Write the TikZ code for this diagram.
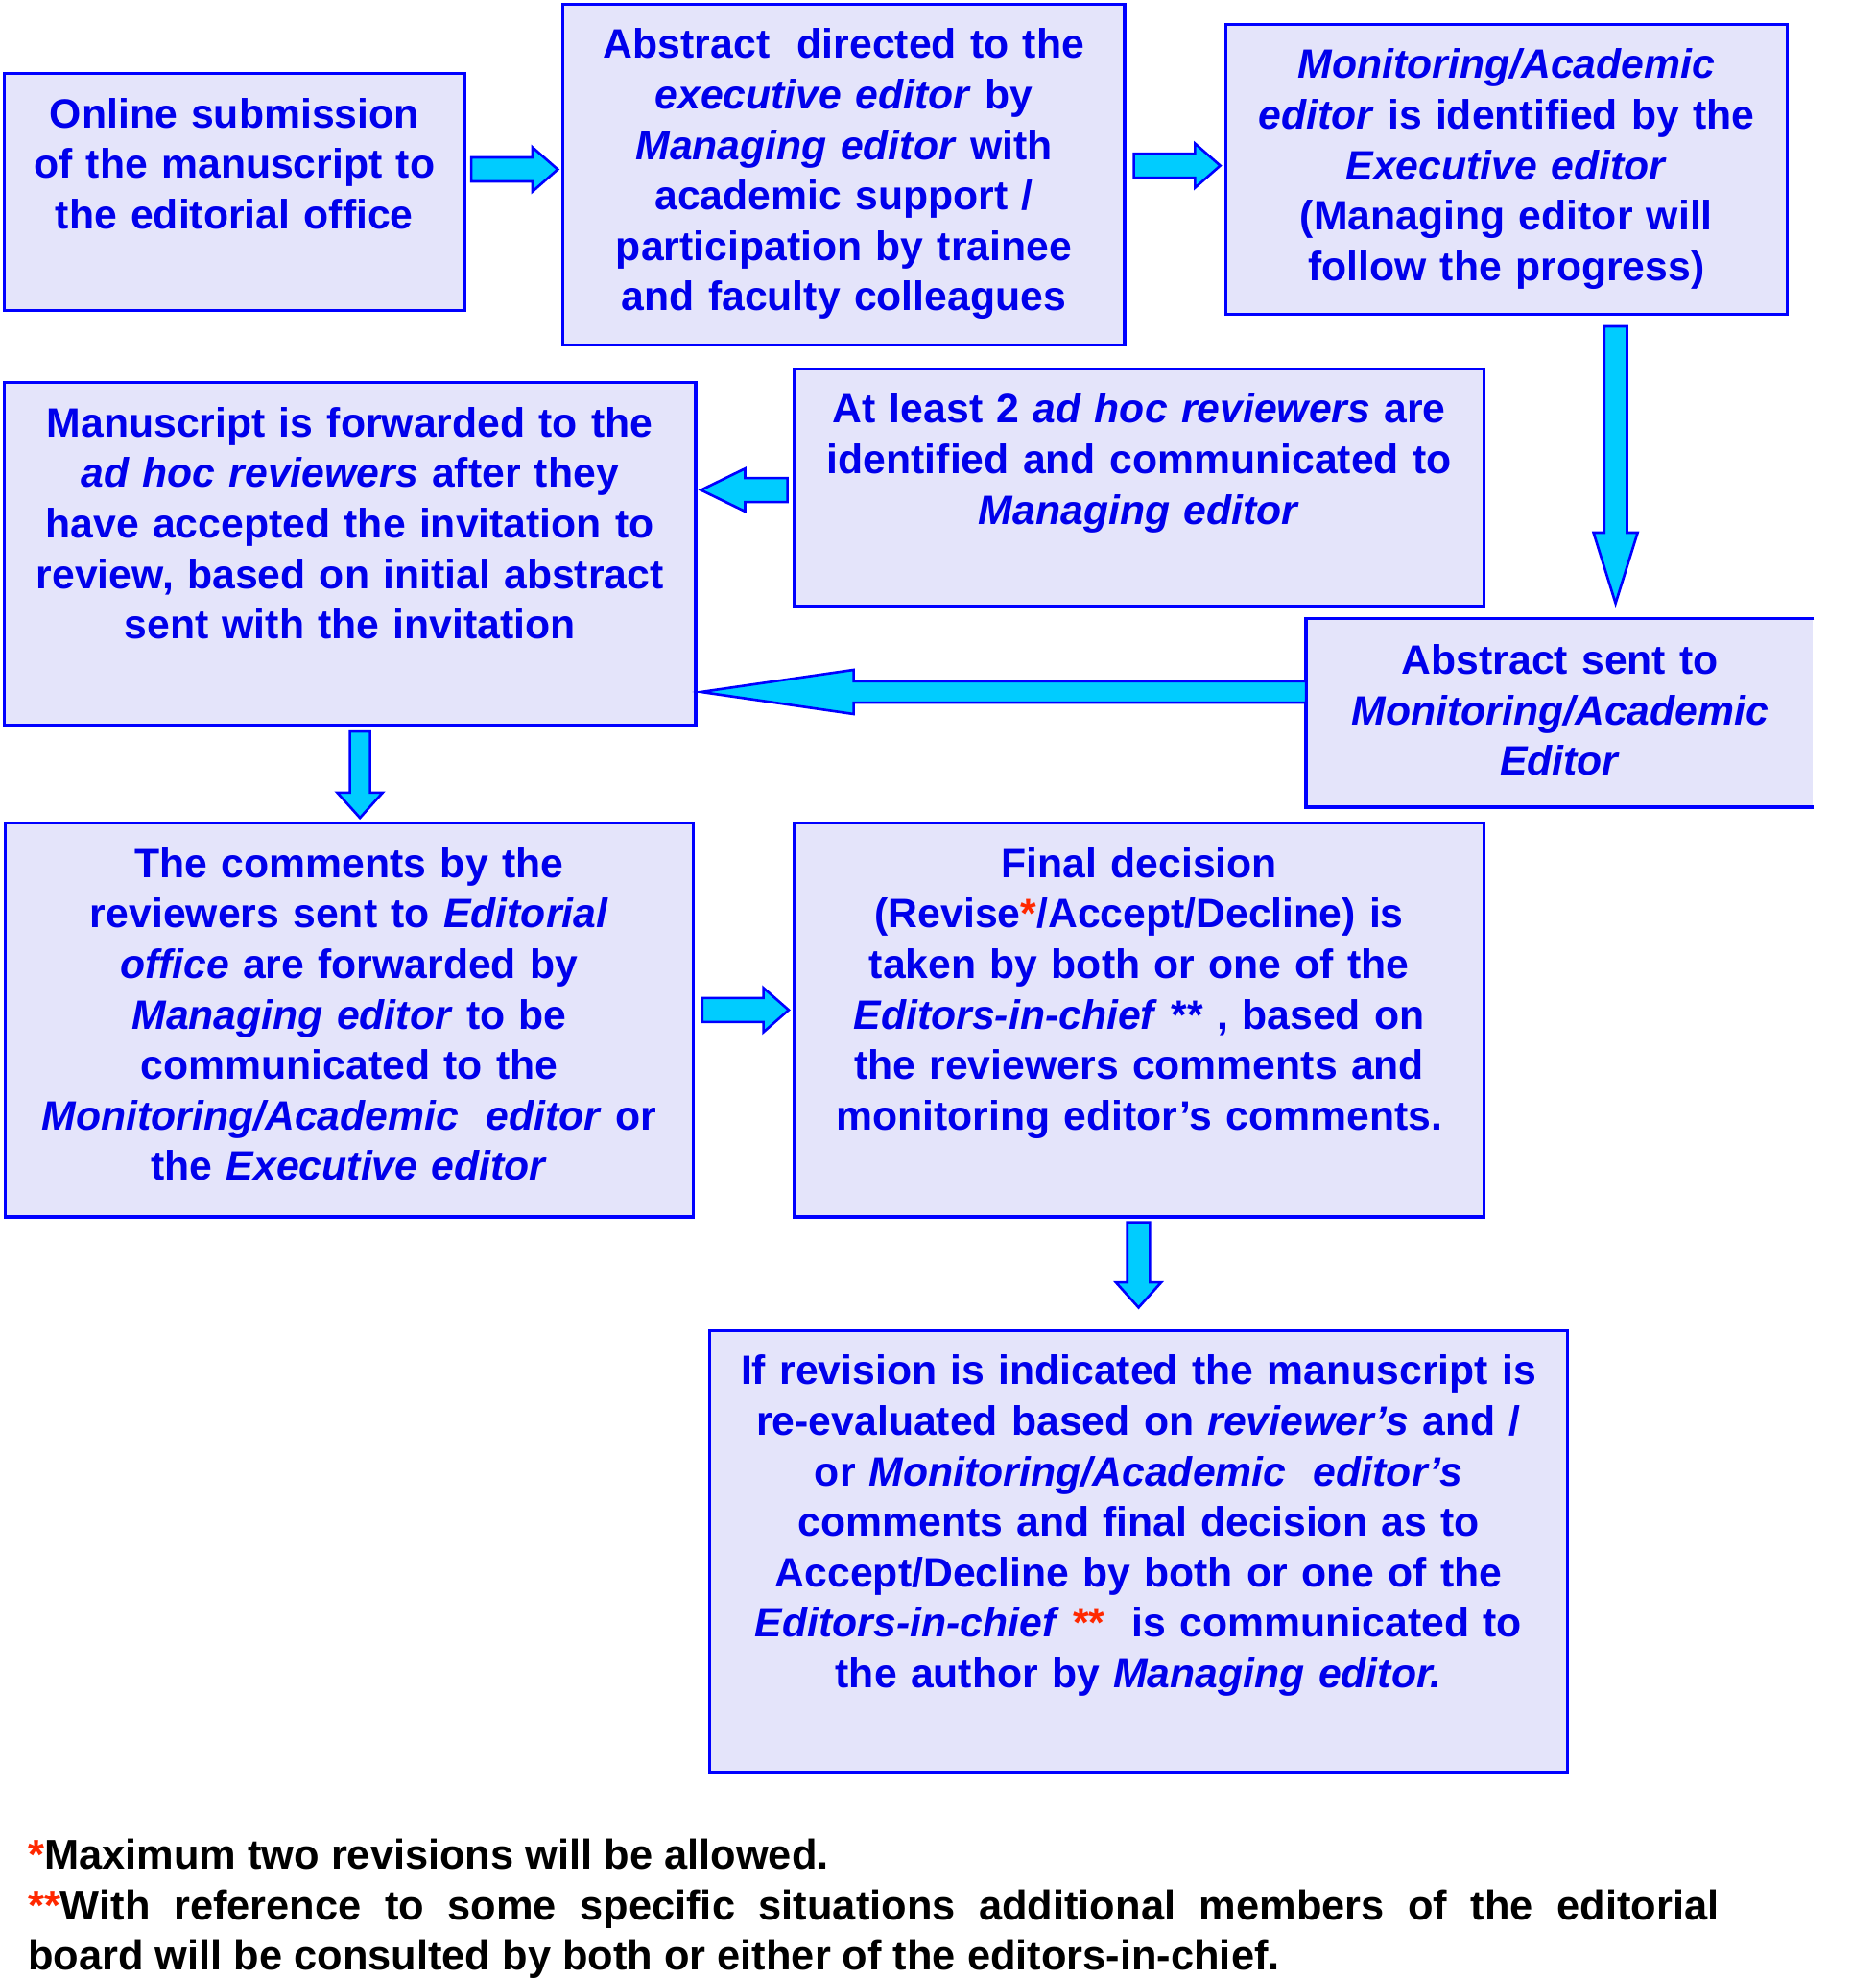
\documentclass[tikz,border=0pt]{standalone}
\usepackage{fontspec}
\setmainfont{Liberation Sans}
\usetikzlibrary{calc}
\definecolor{boxblue}{RGB}{0,0,255}
\definecolor{txtblue}{RGB}{0,0,235}
\definecolor{boxfill}{RGB}{228,228,250}
\definecolor{arrowcyan}{RGB}{0,204,255}
\definecolor{starred}{RGB}{255,40,0}
\tolerance=9999
\tikzset{
	stepbox/.style={draw=boxblue, line width=2.5pt, fill=boxfill, text=txtblue, align=center, inner sep=0pt, anchor=north west, text height=43pt, font=\bfseries\fontsize{32.5}{40}\selectfont},
	arrowbody/.style={draw=boxblue, line width=2pt, fill=arrowcyan, line join=miter},
	notes/.style={text=black, align=justify, inner sep=0pt, anchor=base west, text width=1340pt, font=\bfseries\fontsize{33}{40}\selectfont}
}
\newcommand{\flowarrow}[5]{%
	\coordinate (hb) at ($(#2)!#5!(#1)$);
	\draw[arrowbody] ($(#1)!#3!90:(#2)$) -- ($(hb)!#3!90:(#2)$) -- ($(hb)!#4!90:(#2)$) -- (#2) -- ($(hb)!#4!-90:(#2)$) -- ($(hb)!#3!-90:(#2)$) -- ($(#1)!#3!-90:(#2)$) -- cycle;
}
\begin{document}
\begin{tikzpicture}[x=1pt,y=-1pt]
	\useasboundingbox (0,0) rectangle (1486,1568);
	\node[stepbox, text width=365pt, text depth=145pt] (submit) at (2,57) {Online submission\\ of the manuscript to\\ the editorial office};
	\node[stepbox, text width=445pt, text depth=227pt] (abstract) at (445,2) {Abstract\ \ directed to the\\ \textit{executive editor} by\\ \textit{Managing editor} with\\ academic support /\\ participation by trainee\\ and faculty colleagues};
	\node[stepbox, text width=445pt, text depth=187pt] (monitor) at (970,18) {\textit{Monitoring/Academic}\\ \textit{editor} is identified by the\\ \textit{Executive editor}\\ (Managing editor will\\ follow the progress)};
	\node[stepbox, text width=548pt, text depth=228pt] (forward) at (2,302) {Manuscript is forwarded to the\\ \textit{ad hoc reviewers} after they\\ have accepted the invitation to\\ review, based on initial abstract\\ sent with the invitation};
	\node[stepbox, text width=547pt, text depth=145pt] (atleast) at (628,291) {At least 2 \textit{ad hoc reviewers} are\\ identified and communicated to\\ \textit{Managing editor}};
	\node[stepbox, draw=none, text width=400pt, text depth=104pt] (sentto) at (1035,490) {Abstract sent to\\ \textit{Monitoring/Academic}\\ \textit{Editor}};
	\draw[boxblue, line width=2.5pt] (sentto.north east) -- (sentto.north west) -- (sentto.south west) -- (sentto.south east);
	\node[stepbox, text width=545pt, text depth=269pt] (comments) at (3,651) {The comments by the\\ reviewers sent to \textit{Editorial}\\ \textit{office} are forwarded by\\ \textit{Managing editor} to be\\ communicated to the\\ \textit{Monitoring/Academic\ \ editor} or\\ the \textit{Executive editor}};
	\node[stepbox, text width=547pt, text depth=269pt] (decision) at (628,651) {Final decision\\ (Revise{\color{starred}*}/Accept/Decline) is\\ taken by both or one of the\\ \textit{Editors-in-chief} ** , based on\\ the reviewers comments and\\ monitoring editor’s comments.};
	\node[stepbox, text width=680pt, text depth=307pt] (revision) at (561,1053) {If revision is indicated the manuscript is\\ re-evaluated based on \textit{reviewer’s} and /\\ or \textit{Monitoring/Academic\ \ editor’s}\\ comments and final decision as to\\ Accept/Decline by both or one of the\\ \textit{Editors-in-chief} {\color{starred}**}\ \ is communicated to\\ the author by \textit{Managing editor.}};
	\node[notes] (footnote) at (22,1481) {{\color{starred}*}Maximum two revisions will be allowed.\\ {\color{starred}**}With reference to some specific situations additional members of the editorial\linebreak board will be consulted by both or either of the editors-in-chief.};
	\coordinate (a1s) at ([xshift=4pt,yshift=18pt]submit.east);
	\coordinate (a1t) at ([xshift=-3pt,yshift=4pt]abstract.west);
	\coordinate (a2s) at ([xshift=6pt,yshift=7pt]abstract.east);
	\coordinate (a2t) at ([xshift=-3pt,yshift=3pt]monitor.west);
	\coordinate (a3s) at ([xshift=86.5pt,yshift=-8pt]monitor.south);
	\coordinate (a3t) at ([xshift=44pt,yshift=12pt]sentto.north);
	\coordinate (a4s) at ([xshift=-4pt,yshift=-2pt]atleast.west);
	\coordinate (a4t) at ([xshift=3pt,yshift=50.5pt]forward.east);
	\coordinate (a5s) at ([yshift=16.5pt]sentto.west);
	\coordinate (a5t) at ([xshift=3pt,yshift=-109.5pt]forward.east);
	\coordinate (a6s) at ([xshift=8pt,yshift=-4pt]forward.south);
	\coordinate (a6t) at ([xshift=8.5pt,yshift=3pt]comments.north);
	\coordinate (a7s) at ([xshift=6pt,yshift=8pt]comments.east);
	\coordinate (a7t) at ([xshift=-3pt,yshift=8pt]decision.west);
	\coordinate (a8s) at ([xshift=-0.5pt,yshift=-3pt]decision.south);
	\coordinate (a8t) at ([yshift=17pt]revision.north);
	\flowarrow{a1s}{a1t}{9.5pt}{17.5pt}{20pt}
	\flowarrow{a2s}{a2t}{9.5pt}{17.5pt}{20pt}
	\flowarrow{a3s}{a3t}{9pt}{17.5pt}{56pt}
	\flowarrow{a4s}{a4t}{9.5pt}{17pt}{35pt}
	\flowarrow{a5s}{a5t}{8.5pt}{17.5pt}{121pt}
	\flowarrow{a6s}{a6t}{8pt}{18pt}{20pt}
	\flowarrow{a7s}{a7t}{9.5pt}{17.5pt}{20pt}
	\flowarrow{a8s}{a8t}{9pt}{18pt}{20pt}
\end{tikzpicture}
\end{document}
